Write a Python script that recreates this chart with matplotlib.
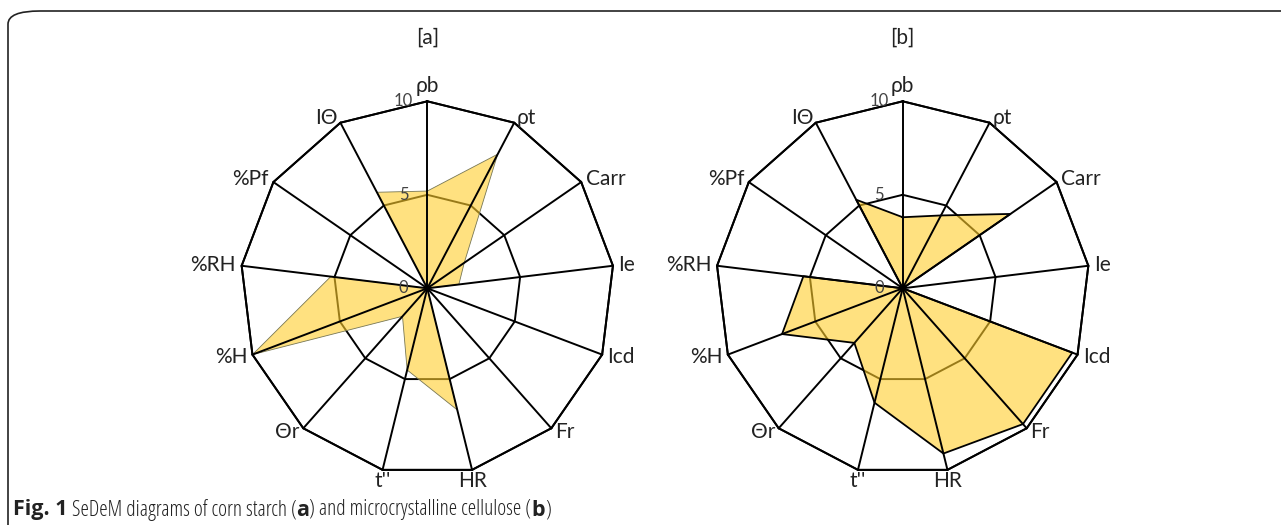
import numpy as np
import matplotlib.pyplot as plt
from matplotlib.patches import FancyBboxPatch

# ========================================
# DADOS (lidos do gráfico SeDeM)
# ========================================
parametros = ["ρb", "ρt", "Carr", "Ie", "Icd", "Fr", "HR", "t''",
              "Θr", "%H", "%RH", "%Pf", "IΘ"]
amido_milho = [5.2, 8.1, 2.4, 1.7, 0.0, 0.0, 6.7, 4.5, 2.0, 10.0, 5.2, 0.0, 5.8]
celulose_mc = [3.8, 4.4, 7.0, 0.0, 9.7, 9.7, 9.1, 6.3, 3.9, 6.9, 5.35, 0.0, 5.35]
aneis = [5, 10]
rotulos_aneis = ["0", "5", "10"]
titulos = ["[a]", "[b]"]

W, H = 1281, 525
fig = plt.figure(figsize=(W / 100, H / 100), dpi=100)

# moldura com canto arredondado (aberta à direita/embaixo)
moldura = FancyBboxPatch((8 / W, -0.2), 1.2, (H - 11) / H + 0.2,
                         boxstyle="round,pad=0,rounding_size=0.025",
                         transform=fig.transFigure, fill=False,
                         edgecolor="#222222", linewidth=1.2)
fig.patches.append(moldura)

n = len(parametros)
angulos = np.arange(n) * 2 * np.pi / n
ang_fech = np.append(angulos, angulos[0])

R = 187
centros = [427.3, 902.7]
cy = H - 288.3

amarelo = "#FFCD2B"
fonte = "Lato"


def radar(cx, valores, titulo, borda, lw_borda):
    ax = fig.add_axes([(cx - R) / W, (cy - R) / H, 2 * R / W, 2 * R / H],
                      projection="polar")
    ax.set_theta_zero_location("N")
    ax.set_theta_direction(-1)
    ax.set_ylim(0, 10)
    ax.grid(False)
    ax.spines["polar"].set_visible(False)
    ax.set_xticks([])
    ax.set_yticks([])
    ax.patch.set_alpha(0)

    # anéis (5 e 10)
    for r in aneis:
        ax.plot(ang_fech, [r] * (n + 1), color="black", lw=1.4, zorder=1,
                clip_on=False)

    # série preenchida
    v = np.append(valores, valores[0])
    ax.fill(ang_fech, v, color=amarelo, alpha=0.6, zorder=2, lw=0)
    ax.plot(ang_fech, v, color=borda, lw=lw_borda, zorder=2.5)

    # raios
    for a in angulos:
        ax.plot([a, a], [0, 10], color="black", lw=1.4, zorder=3,
                clip_on=False)
    ax.plot(ang_fech, [10] * (n + 1), color="black", lw=1.4, zorder=3,
            clip_on=False)

    # rótulos dos anéis
    for r, txt in zip([0] + aneis, rotulos_aneis):
        ax.annotate(txt, xy=(0, r), xytext=(-17, 0), textcoords="offset points",
                    ha="center", va="center", fontsize=12, color="#444444",
                    family=fonte, zorder=4)

    # rótulos dos parâmetros
    for a, lab in zip(angulos, parametros):
        s, c = np.sin(a), np.cos(a)
        ha = "center" if abs(s) < 0.3 else ("left" if s > 0 else "right")
        va = "center"
        raio = 10.3
        if c > 0.9:
            va = "bottom"
        elif c < -0.9:
            va = "top"
            raio = 10.05
        ax.text(a, raio, lab, ha=ha, va=va, fontsize=15, family=fonte,
                color="#222222", clip_on=False)

    fig.text(cx / W, 1 - 38 / H, titulo, ha="center", va="center",
             fontsize=15, family=fonte, color="#222222")


radar(centros[0], amido_milho, titulos[0], "#777755", 0.6)
radar(centros[1], celulose_mc, titulos[1], "black", 1.3)

# legenda da figura (partes em negrito)
partes = [("Fig. 1", "bold"), (" SeDeM diagrams of corn starch (", "normal"),
          ("a", "bold"), (") and microcrystalline cellulose (", "normal"),
          ("b", "bold"), (")", "normal")]
renderer = fig.canvas.get_renderer()
x = 13
for txt, peso in partes:
    t = fig.text(x / W, 1 - 510 / H, txt, ha="left", va="center",
                 fontsize=15.5, fontweight=peso, family="Open Sans",
                 fontstretch="condensed", color="#222222")
    x += t.get_window_extent(renderer).width

fig.savefig("out.png", dpi=100)
